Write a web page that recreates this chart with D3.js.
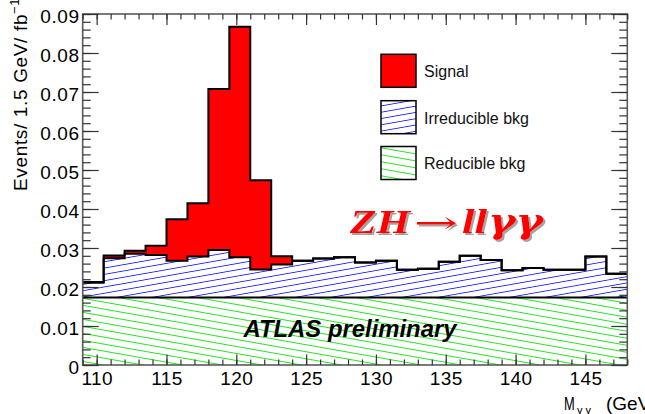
<!DOCTYPE html>
<html>
<head>
<meta charset="utf-8">
<script src="https://cdn.jsdelivr.net/npm/d3@7"></script>
<style>
  html, body { margin: 0; padding: 0; background: #fff; }
  svg { display: block; font-family: "Liberation Sans", Arial, Helvetica, sans-serif; }
</style>
</head>
<body>
<svg id="chart" width="645" height="414"></svg>
<script>
// Diphoton mass bins (lower edges, GeV) and stacked contributions (events / 1.5 GeV / fb^-1)
const binLow = [109, 110.5, 112, 113.5, 115, 116.5, 118, 119.5, 121, 122.5, 124, 125.5, 127,
                128.5, 130, 131.5, 133, 134.5, 136, 137.5, 139, 140.5, 142, 143.5, 145, 146.5];
const binWidth = 1.5;
const reducibleBkg = [0.0173, 0.0173, 0.0173, 0.0173, 0.0173, 0.0173, 0.0173, 0.0173, 0.0173,
                      0.0173, 0.0173, 0.0173, 0.0173, 0.0173, 0.0173, 0.0173, 0.0173, 0.0173,
                      0.0173, 0.0173, 0.0173, 0.0173, 0.0173, 0.0173, 0.0173, 0.0173];
const irreducibleBkg = [0.0038, 0.0101, 0.0112, 0.0109, 0.0094, 0.0105, 0.0122, 0.0103, 0.0072,
                        0.0085, 0.0094, 0.0100, 0.0103, 0.0090, 0.0094, 0.0071, 0.0074, 0.0092,
                        0.0107, 0.0096, 0.0070, 0.0076, 0.0071, 0.0071, 0.0105, 0.0061];
const signalZH = [0.0002, 0.0007, 0.0008, 0.0024, 0.0107, 0.0137, 0.0413, 0.0591, 0.0229,
                  0.0021, 0, 0, 0, 0, 0, 0, 0, 0, 0, 0, 0, 0, 0, 0, 0, 0];

const xTickValues = [110, 115, 120, 125, 130, 135, 140, 145];
const yTickValues = [0, 0.01, 0.02, 0.03, 0.04, 0.05, 0.06, 0.07, 0.08, 0.09];
const yTickLabels = ["0", "0.01", "0.02", "0.03", "0.04", "0.05", "0.06", "0.07", "0.08", "0.09"];
const legendLabels = ["Signal", "Irreducible bkg", "Reducible bkg"];

const svg = d3.select("#chart");
const plot = { left: 82.7, right: 627.3, top: 14, bottom: 365 };

const xMin = binLow[0];
const xMax = binLow[binLow.length - 1] + binWidth;
const x = d3.scaleLinear().domain([xMin, xMax]).range([plot.left, plot.right]);
const y = d3.scaleLinear().domain([0, 0.09]).range([plot.bottom, plot.top]);

// hatch patterns and the drop shadow for the process label
const defs = svg.append("defs");
function hatch(id, color, spacing, angle) {
  const p = defs.append("pattern")
    .attr("id", id)
    .attr("patternUnits", "userSpaceOnUse")
    .attr("width", 40).attr("height", spacing)
    .attr("patternTransform", `rotate(${angle})`);
  p.append("rect").attr("width", 40).attr("height", spacing).attr("fill", "#fff");
  p.append("line")
    .attr("x1", 0).attr("x2", 40)
    .attr("y1", spacing / 2).attr("y2", spacing / 2)
    .attr("stroke", color).attr("stroke-width", 0.9);
}
hatch("hatchBlue", "#2424ff", 6.2, -10);
hatch("hatchGreen", "#10e010", 6.9, 10);

defs.append("filter").attr("id", "softShadow")
  .attr("x", "-10%").attr("y", "-20%").attr("width", "130%").attr("height", "150%")
  .append("feDropShadow")
  .attr("dx", 2).attr("dy", 2).attr("stdDeviation", 0.6)
  .attr("flood-color", "#8c8c8c").attr("flood-opacity", 0.8);

defs.append("clipPath").attr("id", "plotClip")
  .append("rect")
  .attr("x", plot.left).attr("y", plot.top)
  .attr("width", plot.right - plot.left).attr("height", plot.bottom - plot.top);

// cumulative stack levels per bin
const bins = binLow.map((lo, i) => {
  const r = reducibleBkg[i];
  const b = r + irreducibleBkg[i];
  const t = b + signalZH[i];
  return { lo, hi: lo + binWidth, r, b, t };
});

// doubled points so each bin becomes a flat step
const stepPts = bins.flatMap(d => [{ x: d.lo, d }, { x: d.hi, d }]);

const g = svg.append("g").attr("clip-path", "url(#plotClip)");

const area = (lowF, highF) => d3.area()
  .x(p => x(p.x))
  .y0(p => y(lowF(p.d)))
  .y1(p => y(highF(p.d)));

g.append("path").datum(stepPts)
  .attr("d", area(() => 0, d => d.r))
  .attr("fill", "url(#hatchGreen)");
g.append("path").datum(stepPts)
  .attr("d", area(d => d.r, d => d.b))
  .attr("fill", "url(#hatchBlue)");
g.append("path").datum(stepPts)
  .attr("d", area(d => d.b, d => d.t))
  .attr("fill", "#ff0000");

const stepLine = f => d3.line().x(p => x(p.x)).y(p => y(f(p.d)));
[d => d.t, d => d.b, d => d.r].forEach(f => {
  g.append("path").datum(stepPts)
    .attr("d", stepLine(f))
    .attr("fill", "none")
    .attr("stroke", "#000")
    .attr("stroke-width", 2)
    .attr("stroke-linejoin", "miter");
});

// frame
svg.append("rect")
  .attr("x", plot.left).attr("y", plot.top)
  .attr("width", plot.right - plot.left).attr("height", plot.bottom - plot.top)
  .attr("fill", "none").attr("stroke", "#5a5a5a").attr("stroke-width", 1.6);

// axes with inward ticks
const tickFont = 19;
const styleAxis = sel => {
  sel.select(".domain").remove();
  sel.selectAll(".tick line").attr("stroke", "#333").attr("stroke-width", 1.2);
  sel.selectAll(".tick text")
    .attr("fill", "#000")
    .style("font-size", tickFont + "px")
    .style("font-family", '"Liberation Sans", Arial, sans-serif');
};

const xMinor = d3.range(Math.ceil(xMin), xMax + 0.001, 1);
const yMinor = d3.range(0, 0.0901, 0.002);

// bottom
svg.append("g").attr("transform", `translate(0,${plot.bottom})`)
  .call(d3.axisBottom(x).tickValues(xMinor).tickSize(-5.5).tickFormat(""))
  .call(styleAxis);
svg.append("g").attr("transform", `translate(0,${plot.bottom})`)
  .call(d3.axisBottom(x).tickValues(xTickValues).tickSize(-10.5).tickPadding(7).tickFormat(d3.format("d")))
  .call(styleAxis)
  .call(s => s.selectAll(".tick text").attr("letter-spacing", "0.4px"));

// top
svg.append("g").attr("transform", `translate(0,${plot.top})`)
  .call(d3.axisTop(x).tickValues(xMinor).tickSize(-5.5).tickFormat(""))
  .call(styleAxis);
svg.append("g").attr("transform", `translate(0,${plot.top})`)
  .call(d3.axisTop(x).tickValues(xTickValues).tickSize(-11).tickFormat(""))
  .call(styleAxis);

// left
svg.append("g").attr("transform", `translate(${plot.left},0)`)
  .call(d3.axisLeft(y).tickValues(yMinor).tickSize(-8).tickFormat(""))
  .call(styleAxis);
svg.append("g").attr("transform", `translate(${plot.left},0)`)
  .call(d3.axisLeft(y).tickValues(yTickValues).tickSize(-16).tickPadding(3)
        .tickFormat((d, i) => yTickLabels[i]))
  .call(styleAxis)
  .call(s => s.selectAll(".tick text").attr("dy", "0.47em").attr("letter-spacing", "0.6px"));

// right
svg.append("g").attr("transform", `translate(${plot.right},0)`)
  .call(d3.axisRight(y).tickValues(yMinor).tickSize(-8).tickFormat(""))
  .call(styleAxis);
svg.append("g").attr("transform", `translate(${plot.right},0)`)
  .call(d3.axisRight(y).tickValues(yTickValues).tickSize(-16).tickFormat(""))
  .call(styleAxis);

// axis titles
svg.append("text")
  .attr("transform", "translate(564,410) scale(0.68,1)")
  .attr("font-size", 19).attr("fill", "#000")
  .text("M");
svg.append("text")
  .attr("x", 577).attr("y", 413.5)
  .attr("font-size", 11).attr("fill", "#000")
  .text("γ γ");
svg.append("text")
  .attr("x", 606).attr("y", 410)
  .attr("font-size", 19).attr("fill", "#000")
  .text("(GeV)");

const yTitle = svg.append("text")
  .attr("transform", "translate(27,191) rotate(-90)")
  .attr("font-size", 19).attr("letter-spacing", "0.65px").attr("fill", "#000");
yTitle.append("tspan").text("Events/ 1.5 GeV/ fb");
yTitle.append("tspan").attr("dy", -8).attr("font-size", 13).text("−1");

// legend
const legendFills = ["#ff0000", "url(#hatchBlue)", "url(#hatchGreen)"];
const legendTop = [54.3, 100.7, 146.5];
const legend = svg.append("g");
legendLabels.forEach((lab, i) => {
  legend.append("rect")
    .attr("x", 381).attr("y", legendTop[i])
    .attr("width", 35).attr("height", 33)
    .attr("fill", legendFills[i])
    .attr("stroke", "#000").attr("stroke-width", 1.5);
  legend.append("text")
    .attr("x", 424).attr("y", legendTop[i] + 22.8)
    .attr("font-size", 16).attr("fill", "#111")
    .text(lab);
});

// process label, red with a soft drop shadow
const procParts = [
  { t: "ZH", x: 350, len: 60, weight: "bold", style: "italic", font: '"Liberation Serif", "Times New Roman", serif' },
  { t: "→", x: 414, len: 44, weight: "normal", style: "normal", font: '"DejaVu Serif", serif' },
  { t: "ll", x: 462, len: 25, weight: "bold", style: "italic", font: '"Liberation Serif", "Times New Roman", serif' },
  { t: "γγ", x: 488, len: 55, weight: "bold", style: "italic", font: '"DejaVu Serif", serif' }
];
const proc = svg.append("g").attr("filter", "url(#softShadow)");
procParts.forEach(p => {
  proc.append("text")
    .attr("x", p.x).attr("y", 233)
    .attr("font-family", p.font)
    .attr("font-size", p.t === "→" ? 30 : 33)
    .attr("font-weight", p.weight).attr("font-style", p.style)
    .attr("fill", "#ff0000")
    .attr("textLength", p.len).attr("lengthAdjust", "spacingAndGlyphs")
    .text(p.t);
});

// experiment label
svg.append("text")
  .attr("x", 243.5).attr("y", 337)
  .attr("font-size", 23).attr("font-weight", "bold").attr("font-style", "italic")
  .attr("fill", "#000")
  .attr("textLength", 213).attr("lengthAdjust", "spacingAndGlyphs")
  .text("ATLAS preliminary");
</script>
</body>
</html>
